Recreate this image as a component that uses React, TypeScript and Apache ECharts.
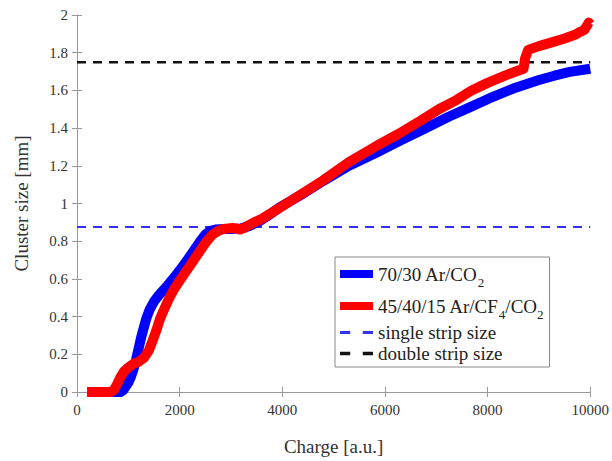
import React, { useEffect, useRef } from "react";
import * as echarts from "echarts";

const xTicks = [0, 2000, 4000, 6000, 8000, 10000];
const yTicks = [0, 0.2, 0.4, 0.6, 0.8, 1, 1.2, 1.4, 1.6, 1.8, 2];

const arCo2Charge = [200, 600, 850, 900, 950, 1000, 1050, 1100, 1150, 1200, 1250, 1300, 1350, 1420, 1500, 1600, 1750, 1900, 2000, 2150, 2300, 2400, 2500, 2600, 2700, 2850, 3000, 3200, 3350, 3550, 3750, 3950, 4330, 4800, 5300, 5800, 6270, 6800, 7240, 7650, 8020, 8500, 9000, 9300, 9600, 10000];
const arCo2Size = [0, 0, 0, 0.01, 0.03, 0.05, 0.08, 0.12, 0.17, 0.23, 0.29, 0.34, 0.39, 0.44, 0.48, 0.515, 0.56, 0.61, 0.645, 0.7, 0.76, 0.8, 0.835, 0.855, 0.862, 0.865, 0.865, 0.868, 0.88, 0.905, 0.94, 0.98, 1.04, 1.12, 1.2, 1.265, 1.33, 1.4, 1.46, 1.51, 1.556, 1.61, 1.655, 1.678, 1.698, 1.715];

const arCf4Charge = [200, 650, 720, 780, 850, 920, 1000, 1100, 1200, 1300, 1400, 1470, 1550, 1620, 1700, 1800, 1900, 2000, 2150, 2300, 2400, 2500, 2640, 2750, 2850, 2950, 3030, 3100, 3170, 3250, 3350, 3450, 3610, 3850, 4140, 4780, 5300, 5800, 6270, 6700, 7050, 7400, 7690, 8000, 8350, 8550, 8700, 8730, 8790, 9000, 9250, 9500, 9700, 9800, 9880, 9930, 9970, 10000];
const arCf4Size = [0, 0, 0.01, 0.04, 0.08, 0.11, 0.13, 0.15, 0.16, 0.18, 0.22, 0.27, 0.33, 0.39, 0.44, 0.5, 0.55, 0.59, 0.65, 0.71, 0.75, 0.79, 0.835, 0.855, 0.865, 0.868, 0.87, 0.868, 0.862, 0.87, 0.885, 0.9, 0.92, 0.96, 1.01, 1.12, 1.22, 1.3, 1.37, 1.44, 1.5, 1.55, 1.6, 1.64, 1.68, 1.7, 1.715, 1.77, 1.815, 1.835, 1.855, 1.875, 1.895, 1.91, 1.92, 1.94, 1.96, 1.95];

const singleStrip = 0.875;
const doubleStrip = 1.75;

const seriesNames = ["70/30 Ar/CO2", "45/40/15 Ar/CF4/CO2", "single strip size", "double strip size"];

const FONT = "Liberation Serif";

export default function App() {
  const ref = useRef<HTMLDivElement>(null);
  useEffect(() => {
    if (!ref.current) return;
    const chart = echarts.init(ref.current, null, { renderer: "svg" });
    const zip = (xs: number[], ys: number[]) => xs.map((x, i) => [x, ys[i]]);
    const t = (fontSize: number, color: string) => ({ fontFamily: FONT, fontSize, color });
    const frameAxis = {
      axisLine: { show: true, lineStyle: { color: "#999", width: 1 } },
      axisTick: { show: true, inside: true, length: 5, lineStyle: { color: "#999" } },
      splitLine: { show: false },
    };
    chart.setOption({
      animation: false,
      backgroundColor: "#fff",
      grid: { left: 77, top: 15, width: 515, height: 380, show: false },
      xAxis: [
        {
          type: "value", min: xTicks[0], max: xTicks[xTicks.length - 1], interval: xTicks[1] - xTicks[0],
          name: "Charge [a.u.]", nameLocation: "middle", nameGap: 45,
          nameTextStyle: t(19, "#333"),
          ...frameAxis,
          axisLabel: { ...t(15, "#333"), margin: 10, formatter: (v: number) => String(v) },
        },
        {
          type: "value", min: xTicks[0], max: xTicks[xTicks.length - 1], interval: xTicks[1] - xTicks[0], position: "top",
          ...frameAxis,
          axisLabel: { show: false },
        },
      ],
      yAxis: [
        {
          type: "value", min: yTicks[0], max: yTicks[yTicks.length - 1], interval: 0.2,
          name: "Cluster size [mm]", nameLocation: "middle", nameGap: 46,
          nameTextStyle: t(19, "#333"),
          ...frameAxis,
          axisLabel: { ...t(15, "#333"), margin: 9, formatter: (v: number) => String(Math.round(v * 10) / 10) },
        },
        {
          type: "value", min: yTicks[0], max: yTicks[yTicks.length - 1], interval: 0.2, position: "right",
          ...frameAxis,
          axisLabel: { show: false },
        },
      ],
      legend: {
        orient: "vertical",
        left: 335,
        top: 257,
        itemWidth: 33,
        itemHeight: 8,
        itemGap: 2,
        padding: [2, 6, 4, 5],
        backgroundColor: "#fff",
        borderColor: "#888",
        borderWidth: 1,
        selectedMode: false,
        textStyle: {
          ...t(19, "#222"), lineHeight: 19,
          rich: {
            t: { ...t(19, "#222"), lineHeight: 19 },
            sub: { ...t(13, "#222"), lineHeight: 30, verticalAlign: "bottom", padding: [11, 0, 0, 0] },
          },
        },
        formatter: (name: string) => {
          if (name === seriesNames[0]) return "{t|70/30 Ar/CO}{sub|2}";
          if (name === seriesNames[1]) return "{t|45/40/15 Ar/CF}{sub|4}{t|/CO}{sub|2}";
          return name;
        },
        data: [
          { name: seriesNames[0], icon: "rect" },
          { name: seriesNames[1], icon: "rect" },
          { name: seriesNames[2], icon: "path://M0,0h9v2.5h-9zM20,0h9v2.5h-9z", itemStyle: { color: "#3333ee" } },
          { name: seriesNames[3], icon: "path://M0,0h9v3h-9zM20,0h9v3h-9z", itemStyle: { color: "#111" } },
        ],
      },
      series: [
        {
          name: seriesNames[2], type: "line", showSymbol: false, symbol: "none",
          data: [[xTicks[0], singleStrip], [xTicks[xTicks.length - 1], singleStrip]],
          lineStyle: { color: "#3333ee", width: 2, type: [9, 7] }, itemStyle: { color: "#3333ee" }, z: 1,
        },
        {
          name: seriesNames[3], type: "line", showSymbol: false, symbol: "none",
          data: [[xTicks[0], doubleStrip], [xTicks[xTicks.length - 1], doubleStrip]],
          lineStyle: { color: "#111", width: 2.5, type: [9, 7] }, itemStyle: { color: "#111" }, z: 1,
        },
        {
          name: seriesNames[0], type: "line", showSymbol: false, symbol: "none",
          data: zip(arCo2Charge, arCo2Size),
          lineStyle: { color: "#0000ff", width: 10, cap: "butt", join: "round" }, itemStyle: { color: "#0000ff" }, z: 2,
        },
        {
          name: seriesNames[1], type: "line", showSymbol: false, symbol: "none",
          data: zip(arCf4Charge, arCf4Size),
          lineStyle: { color: "#ff0000", width: 10, cap: "butt", join: "round" }, itemStyle: { color: "#ff0000" }, z: 3,
        },
      ],
    });
    return () => chart.dispose();
  }, []);
  return <div ref={ref} style={{ width: 612, height: 461, position: "absolute", left: 0, top: 0 }} />;
}
